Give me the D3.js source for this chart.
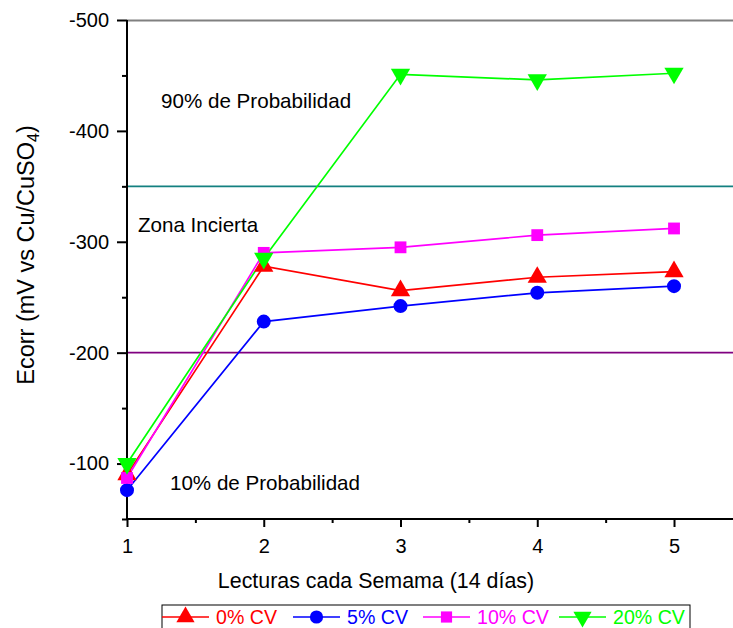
<!DOCTYPE html>
<html><head><meta charset="utf-8">
<script src="https://cdn.jsdelivr.net/npm/d3@7"></script>
<style>body{margin:0;background:#fff}svg{display:block;font-family:Arial,"Liberation Sans",sans-serif}</style>
</head><body><svg id="c" width="733" height="628"></svg>
<script>
const weeks = [1, 2, 3, 4, 5];
const cv0 = [-90, -278, -256, -268, -273];
const cv5 = [-76, -228, -242, -254, -260];
const cv10 = [-87, -290, -295, -306, -312];
const cv20 = [-100, -285, -451, -446, -452];
const seriesNames = ["0% CV", "5% CV", "10% CV", "20% CV"];
const seriesColors = ["#ff0000", "#0000ff", "#ff00ff", "#00ff00"];
const seriesSymbols = ["up", "circle", "square", "down"];
const refLines = [-350, -200];
const refColors = ["#138080", "#800080"];
const yTicks = [-500, -400, -300, -200, -100];
const xTicks = [1, 2, 3, 4, 5];
const zoneLabels = ["90% de Probabilidad", "Zona Incierta", "10% de Probabilidad"];
const zoneLabelX = [1.249, 1.08, 1.314];
const zoneLabelY = [-420.6, -308.8, -76.2];

const svg = d3.select("#c");
const L = 127, R = 733, T = 20, B = 519;
const x = d3.scaleLinear().domain([1, 5 + (R - 674) / 136.8]).range([L, R]);
const y = d3.scaleLinear().domain([-500, -50]).range([T, B]);

// top border
svg.append("line").attr("x1", L).attr("x2", R).attr("y1", T + 0.5).attr("y2", T + 0.5).attr("stroke", "#808080").attr("stroke-width", 2);

// reference lines
refLines.forEach((v, i) => {
  svg.append("line").attr("x1", L).attr("x2", R).attr("y1", y(v)).attr("y2", y(v))
    .attr("stroke", refColors[i]).attr("stroke-width", 1.6);
});

// axes
const fmt = d => String(d);
const yAx = svg.append("g").attr("transform", `translate(${L},0)`)
  .call(d3.axisLeft(y).tickValues(yTicks).tickSize(10).tickPadding(8).tickFormat(fmt));
const yMin = svg.append("g").attr("transform", `translate(${L},0)`)
  .call(d3.axisLeft(y).tickValues([-450, -350, -250, -150, -50]).tickSize(5).tickFormat(""));
const xAx = svg.append("g").attr("transform", `translate(0,${B})`)
  .call(d3.axisBottom(x).tickValues(xTicks).tickSize(8).tickPadding(12).tickFormat(fmt));
const xMin = svg.append("g").attr("transform", `translate(0,${B})`)
  .call(d3.axisBottom(x).tickValues([1.5, 2.5, 3.5, 4.5]).tickSize(4).tickFormat(""));
[yAx, yMin, xAx, xMin].forEach(g => {
  g.selectAll(".domain").attr("stroke", "#000").attr("stroke-width", 2);
  g.selectAll(".tick line").attr("stroke", "#000").attr("stroke-width", 2);
  g.selectAll("text").attr("font-size", 20).attr("fill", "#000").attr("font-family", "Arial, 'Liberation Sans', sans-serif");
});
yAx.select(".domain").attr("d", `M0,${T}V${B}`);
yMin.select(".domain").remove();
xAx.select(".domain").attr("d", `M${L},0H${R}`);
xMin.select(".domain").remove();

// titles
svg.append("text").attr("x", 376).attr("y", 588).attr("text-anchor", "middle")
  .attr("font-size", 21.4).text("Lecturas cada Semama (14 días)");
const yt = svg.append("text").attr("transform", "translate(34,255) rotate(-90)").attr("text-anchor", "middle").attr("font-size", 23.5);
yt.append("tspan").text("Ecorr (mV vs Cu/CuSO");
yt.append("tspan").attr("font-size", 16).attr("dy", 5).text("4");
yt.append("tspan").attr("dy", -5).text(")");

// zone labels
zoneLabels.forEach((t, i) => {
  svg.append("text").attr("x", x(zoneLabelX[i])).attr("y", y(zoneLabelY[i])).attr("font-size", 20.6).text(t);
});

function sym(kind, s) {
  if (kind === "circle") return d3.symbol(d3.symbolCircle, s * 1.1)();
  if (kind === "square") return d3.symbol(d3.symbolSquare, s)();
  return d3.symbol(d3.symbolTriangle, s * 1.15)();
}
const all = [cv0, cv5, cv10, cv20];
const line = d3.line().x((d, i) => x(weeks[i])).y(d => y(d));
all.forEach((vals, k) => {
  svg.append("path").attr("d", line(vals)).attr("fill", "none").attr("stroke", seriesColors[k]).attr("stroke-width", 1.7);
});
all.forEach((vals, k) => {
  svg.append("g").selectAll("path").data(vals).join("path")
    .attr("d", sym(seriesSymbols[k], 140))
    .attr("transform", (d, i) => `translate(${x(weeks[i])},${y(d)})${seriesSymbols[k] === "down" ? " rotate(180)" : ""}`)
    .attr("fill", seriesColors[k]);
});

// legend
svg.append("rect").attr("x", 162).attr("y", 605).attr("width", 528).attr("height", 30)
  .attr("fill", "#fff").attr("stroke", "#000").attr("stroke-width", 1);
const legX = [162, 293, 423, 559];
seriesNames.forEach((n, k) => {
  const lx = legX[k];
  svg.append("line").attr("x1", lx).attr("x2", lx + 47).attr("y1", 617).attr("y2", 617).attr("stroke", seriesColors[k]).attr("stroke-width", 1.7);
  svg.append("path").attr("d", sym(seriesSymbols[k], 125))
    .attr("transform", `translate(${lx + 23.5},617)${seriesSymbols[k] === "down" ? " rotate(180)" : ""}`)
    .attr("fill", seriesColors[k]);
  svg.append("text").attr("x", lx + 54).attr("y", 624).attr("font-size", 19.6).attr("fill", seriesColors[k]).text(n);
});
</script></body></html>
